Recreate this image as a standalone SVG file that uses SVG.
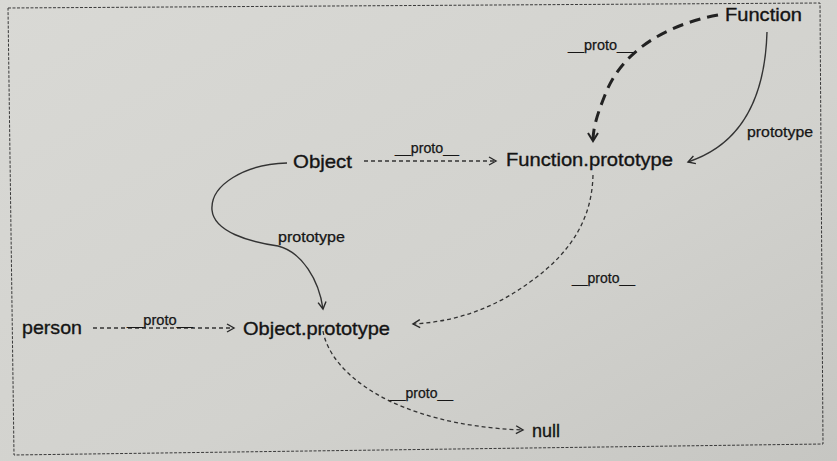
<svg xmlns="http://www.w3.org/2000/svg" width="837" height="461" viewBox="0 0 837 461">
<defs>
<linearGradient id="bg" x1="0" y1="0" x2="1" y2="1">
<stop offset="0" stop-color="#d9d9d5"/>
<stop offset="0.6" stop-color="#d2d2ce"/>
<stop offset="1" stop-color="#c6c6c2"/>
</linearGradient>
<marker id="arr" markerUnits="userSpaceOnUse" markerWidth="20" markerHeight="20" refX="0" refY="0" viewBox="-10 -10 20 20" orient="auto">
<path d="M-7,-4 L0,0 L-7,4" fill="none" stroke="#2a2a2a" stroke-width="1.4" stroke-dasharray="none"/>
</marker>
<marker id="arrBig" markerUnits="userSpaceOnUse" markerWidth="24" markerHeight="24" refX="0" refY="0" viewBox="-12 -12 24 24" orient="auto">
<path d="M-8,-5 L0,0 L-8,5" fill="none" stroke="#222" stroke-width="2" stroke-dasharray="none"/>
</marker>
</defs>
<style>
.node{font-family:"Liberation Sans",Arial,sans-serif;font-size:19px;fill:#141414;stroke:#141414;stroke-width:0.35}
.lbl{font-family:"Liberation Sans",Arial,sans-serif;font-size:14px;fill:#161616;stroke:#161616;stroke-width:0.25}
.solid{fill:none;stroke:#333;stroke-width:1.4}
.dash{fill:none;stroke:#333;stroke-width:1.3;stroke-dasharray:4 3}
.thick{fill:none;stroke:#222;stroke-width:3;stroke-dasharray:11 7}
</style>
<rect width="837" height="461" fill="url(#bg)"/>
<polygon points="8,8 820,3 823,444 14,455" fill="none" stroke="#3a3a3a" stroke-width="1" stroke-dasharray="3 1.5"/>
<g id="connectors">
<path class="thick" d="M718,15 C660,26 620,55 605,95 C597,115 593,128 593,141" marker-end="url(#arrBig)"/>
<path class="solid" d="M767,32 C765,100 740,145 688,162" marker-end="url(#arr)"/>
<path class="dash" d="M364,161 L496,161" marker-end="url(#arr)"/>
<path class="solid" d="M287,163 C245,164 210,185 212,210 C214,232 250,242 278,246 C302,252 319,280 323,309" marker-end="url(#arr)"/>
<path class="dash" d="M93,328 L234,328" marker-end="url(#arr)"/>
<path class="dash" d="M593,175 C592,215 575,250 530,282 C495,308 455,322 413,324" marker-end="url(#arr)"/>
<path class="dash" d="M323,331 C330,372 392,425 523,430" marker-end="url(#arr)"/>
<text class="lbl" x="568" y="50" textLength="65" lengthAdjust="spacingAndGlyphs">__proto__</text>
<text class="lbl" x="747" y="137" textLength="66" lengthAdjust="spacingAndGlyphs">prototype</text>
<text class="lbl" x="395" y="153" textLength="64" lengthAdjust="spacingAndGlyphs">__proto__</text>
<text class="lbl" x="278" y="242" textLength="67" lengthAdjust="spacingAndGlyphs">prototype</text>
<text class="lbl" x="127" y="325" textLength="66" lengthAdjust="spacingAndGlyphs">__proto__</text>
<text class="lbl" x="572" y="283" textLength="63" lengthAdjust="spacingAndGlyphs">__proto__</text>
<text class="lbl" x="390" y="398" textLength="63" lengthAdjust="spacingAndGlyphs">__proto__</text>
</g>
<g id="node-function"><text class="node" x="725" y="21" textLength="77" lengthAdjust="spacingAndGlyphs">Function</text></g>
<g id="node-function-prototype"><text class="node" x="506" y="166" textLength="167" lengthAdjust="spacingAndGlyphs">Function.prototype</text></g>
<g id="node-object"><text class="node" x="293" y="168" textLength="59" lengthAdjust="spacingAndGlyphs">Object</text></g>
<g id="node-object-prototype"><text class="node" x="243" y="335" textLength="147" lengthAdjust="spacingAndGlyphs">Object.prototype</text></g>
<g id="node-person"><text class="node" x="22" y="334" textLength="60" lengthAdjust="spacingAndGlyphs">person</text></g>
<g id="node-null"><text class="node" x="532" y="437" textLength="28" lengthAdjust="spacingAndGlyphs">null</text></g>
</svg>
